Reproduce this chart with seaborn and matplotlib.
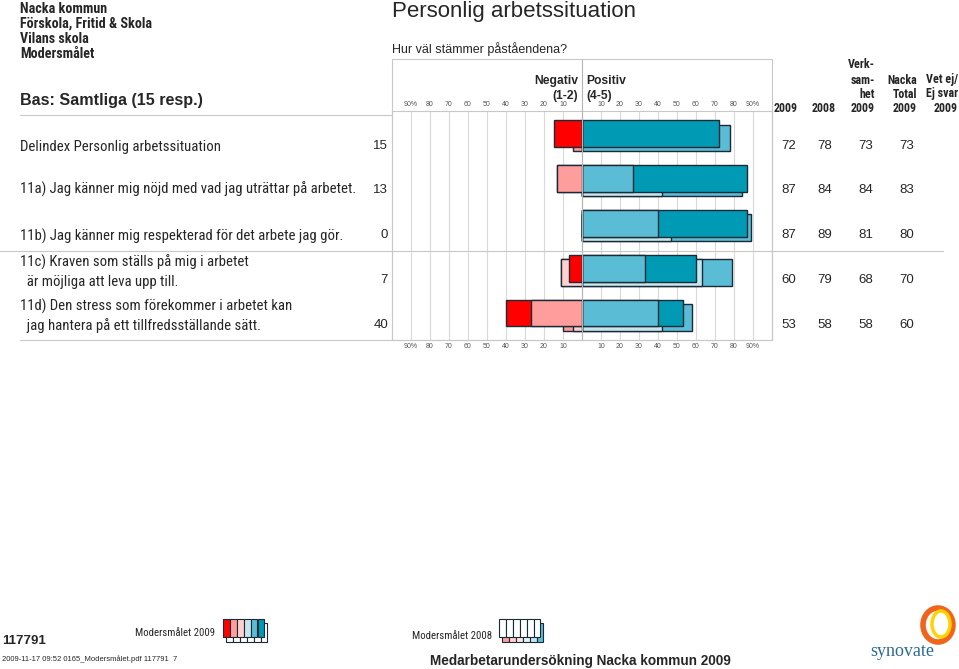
import seaborn as sns
import matplotlib.pyplot as plt
import pandas as pd
import numpy as np
from matplotlib import font_manager
from matplotlib.patches import Rectangle, Ellipse
from matplotlib.lines import Line2D

# Data
rader = ["Delindex Personlig arbetssituation",
         "11a) Jag känner mig nöjd med vad jag uträttar på arbetet.",
         "11b) Jag känner mig respekterad för det arbete jag gör.",
         "11c) Kraven som ställs på mig i arbetet\n  är möjliga att leva upp till.",
         "11d) Den stress som förekommer i arbetet kan\n  jag hantera på ett tillfredsställande sätt."]
negativ_2009 = [15, 13, 0, 7, 40]
positiv_2009 = [72, 87, 87, 60, 53]
positiv_2008 = [78, 84, 89, 79, 58]
verksamhet_2009 = [73, 84, 81, 68, 58]
nacka_total_2009 = [73, 83, 80, 70, 60]

# fördelning per svarsnivå (1-2 negativ, 4-5 positiv)
niva1_2009 = [15, 0, 0, 7, 13]
niva2_2009 = [0, 13, 0, 0, 27]
niva4_2009 = [0, 27, 40, 33, 40]
niva5_2009 = [72, 60, 47, 27, 13]
niva1_2008 = [5, 0, 0, 0, 5]
niva2_2008 = [0, 0, 0, 11, 5]
niva4_2008 = [0, 42, 47, 63, 42]
niva5_2008 = [78, 42, 42, 16, 16]

tick_varden = list(range(-90, 100, 10))
tick_text = ["90%", "80", "70", "60", "50", "40", "30", "20", "10", "",
             "10", "20", "30", "40", "50", "60", "70", "80", "90%"]

# färger
RED, SALMON, PINK = "#ff0000", "#ff9c9c", "#ffd0d0"
PALEBLUE, MIDBLUE, TEAL = "#c4e6ef", "#5bbcd6", "#009ab5"
KANT = "#1b2a35"
GRID = "#d9d9d9"

sns.set_style("white")
SANS = "Liberation Sans"
plt.rcParams["font.family"] = [SANS, "DejaVu Sans"]

# smal (condensed) font med fet variant, om en sådan finns
kandidater = {}
for f in font_manager.fontManager.ttflist:
    n = f.name
    if ("Narrow" in n or "Condensed" in n) and not any(
            b in n for b in ("Serif", "Mono", "CJK", "Light", "Thin", "Extra",
                             "Semi", "Black", "Medium")):
        kandidater.setdefault(n, set()).add(font_manager.weight_dict.get(f.weight, f.weight)
                                            if isinstance(f.weight, str) else f.weight)
NARROW = SANS
ordning = ["Liberation Sans Narrow", "Roboto Condensed", "Open Sans Condensed",
           "Noto Sans Condensed", "DejaVu Sans Condensed"]
valda = [n for n in ordning if n in kandidater] + sorted(kandidater)
for n in valda:
    if any(w >= 600 for w in kandidater[n]):
        NARROW = n
        break
else:
    if valda:
        NARROW = valda[0]

W, H = 959, 669
fig = plt.figure(figsize=(W / 100, H / 100), dpi=100)

# anpassa storleken på den smala texten så att bredden stämmer
fig.canvas.draw()
renderer = fig.canvas.get_renderer()
probe = fig.text(0, 0, rader[1], family=NARROW, fontstretch="condensed", fontsize=10.5)
SK = min(1.15, 338 / probe.get_window_extent(renderer).width)
probe.remove()


def ftxt(x, y, s, **kw):
    kw.setdefault("va", "center")
    fig.text(x / W, 1 - y / H, s, **kw)


def ntxt(x, y, s, size, **kw):
    ftxt(x, y, s, family=NARROW, fontstretch="condensed", fontsize=size * SK, **kw)


def fline(x0, x1, y0, y1, color="#c8c8c8", lw=0.8, z=1):
    fig.add_artist(Line2D([x0 / W, x1 / W], [1 - y0 / H, 1 - y1 / H],
                          color=color, lw=lw, zorder=z))


def frect(x, y, w, h, fc, ec=KANT, lw=0.8, z=3):
    fig.add_artist(Rectangle((x / W, 1 - (y + h) / H), w / W, h / H,
                             facecolor=fc, edgecolor=ec, lw=lw, zorder=z))


# stapeldiagram
ax = fig.add_axes([392 / W, 1 - 340 / H, 380 / W, 229 / H])
pos_2009 = np.arange(len(rader)).astype(float)
pos_2008 = pos_2009 + 0.1


def lager(varden, pos, farg):
    df = pd.DataFrame({"varde": varden, "rad": pos})
    sns.barplot(data=df, x="varde", y="rad", orient="y", native_scale=True,
                color=farg, width=0.6, saturation=1, errorbar=None,
                edgecolor=KANT, linewidth=1.0, ax=ax)


n1_08, n2_08 = np.array(niva1_2008), np.array(niva2_2008)
p4_08, p5_08 = np.array(niva4_2008), np.array(niva5_2008)
n1_09, n2_09 = np.array(niva1_2009), np.array(niva2_2009)
p4_09, p5_09 = np.array(niva4_2009), np.array(niva5_2009)

# 2008 bakom, 2009 framför
lager(p4_08 + p5_08, pos_2008, MIDBLUE)
lager(p4_08, pos_2008, PALEBLUE)
lager(-(n1_08 + n2_08), pos_2008, SALMON)
lager(-n2_08, pos_2008, PINK)
lager(p4_09 + p5_09, pos_2009, TEAL)
lager(p4_09, pos_2009, MIDBLUE)
lager(-(n1_09 + n2_09), pos_2009, RED)
lager(-n2_09, pos_2009, SALMON)

ax.set_xlim(-100, 100)
ax.set_ylim(4.602, -0.501)
ax.set_xticks(tick_varden)
ax.set_xticklabels(tick_text)
ax.set_yticks([])
ax.set_xlabel("")
ax.set_ylabel("")
ax.xaxis.grid(True, color=GRID, lw=0.8)
ax.set_axisbelow(True)
ax.tick_params(axis="x", top=True, labeltop=True, bottom=True, labelbottom=True,
               length=0, labelsize=5, labelcolor="#555555", pad=2)
for sp in ax.spines.values():
    sp.set_color("#c8c8c8")
    sp.set_linewidth(0.8)

# ram och linjer
fig.add_artist(Rectangle((392 / W, 1 - 340 / H), 380 / W, 281 / H, fill=False,
                         edgecolor="#c8c8c8", lw=0.8, zorder=1))
fline(582, 582, 59, 340, color="#b4b4b4", z=0.5)
fline(20, 392, 115, 115)
fline(0, 943, 251, 251)
fline(20, 392, 340, 340)

# rubriker
for y, s in zip([9, 24, 39, 54], ["Nacka kommun", "Förskola, Fritid & Skola",
                                  "Vilans skola", "Modersmålet"]):
    ntxt(20, y, s, 10, weight="bold")
ftxt(20, 100, "Bas: Samtliga (15 resp.)", weight="bold", fontsize=11.6)
ftxt(392, 11, "Personlig arbetssituation", fontsize=16)
ftxt(392, 49, "Hur väl stämmer påståendena?", fontsize=9)
ftxt(578, 81, "Negativ", weight="bold", fontsize=8.7, ha="right")
ftxt(578, 96, "(1-2)", weight="bold", fontsize=8.7, ha="right")
ftxt(586, 81, "Positiv", weight="bold", fontsize=8.7, ha="left")
ftxt(586, 96, "(4-5)", weight="bold", fontsize=8.7, ha="left")

ntxt(786, 108, "2009", 8.5, ha="center", weight="bold")
ntxt(824, 108, "2008", 8.5, ha="center", weight="bold")
for y, s in zip([65, 80, 94, 108], ["Verk-", "sam-", "het", "2009"]):
    ntxt(875, y, s, 8.5, ha="right", weight="bold")
for y, s in zip([80, 94, 108], ["Nacka", "Total", "2009"]):
    ntxt(917, y, s, 8.5, ha="right", weight="bold")
for y, s in zip([80, 94, 108], ["Vet ej/", "Ej svar", "2009"]):
    ntxt(958, y, s, 8.5, ha="right", weight="bold")

# radetiketter och värden
text_y = [147, 189, 236, 272, 316]
for i, namn in enumerate(rader):
    delar = namn.split("\n")
    if len(delar) == 1:
        ntxt(20, text_y[i], delar[0], 10.5)
    else:
        ntxt(20, text_y[i] - 10, delar[0], 10.5)
        ntxt(20, text_y[i] + 10, delar[1], 10.5)

num_y = [146, 190, 235, 280, 325]
for i in range(len(rader)):
    ftxt(388, num_y[i], str(negativ_2009[i]), ha="right", fontsize=9.5)
    ftxt(789, num_y[i], str(positiv_2009[i]), ha="center", fontsize=9.5)
    ftxt(825, num_y[i], str(positiv_2008[i]), ha="center", fontsize=9.5)
    ftxt(866, num_y[i], str(verksamhet_2009[i]), ha="center", fontsize=9.5)
    ftxt(907, num_y[i], str(nacka_total_2009[i]), ha="center", fontsize=9.5)

# sidfot
ftxt(2, 641, "117791", weight="bold", fontsize=9.5)
ftxt(2, 659, "2009-11-17 09:52 0165_Modersmålet.pdf 117791  7", fontsize=5.5)
ntxt(215, 633, "Modersmålet 2009", 7.6, ha="right")
ntxt(492, 636, "Modersmålet 2008", 7.6, ha="right")
ftxt(430, 661, "Medarbetarundersökning Nacka kommun 2009", weight="bold", fontsize=9.8)

farger_09 = [RED, SALMON, PINK, PALEBLUE, MIDBLUE, TEAL]
farger_08 = [SALMON, PINK, "#ffe4e4", "#e2f3f8", PALEBLUE, MIDBLUE]
bw = 6.9
for i in range(6):
    frect(226 + i * bw, 623, bw, 19, "white", z=3)
for i, c in enumerate(farger_09):
    frect(223 + i * bw, 619, bw, 18, c, z=4)
for i, c in enumerate(farger_08):
    frect(502 + i * bw, 623, bw, 19, c, z=3)
for i in range(6):
    frect(499 + i * bw, 619, bw, 18, "white", z=4)

# logotyp
fig.add_artist(Ellipse((938 / W, 1 - 625 / H), 30 / W, 34 / H, fill=False,
                       edgecolor="#f0641e", lw=4, zorder=3))
fig.add_artist(Ellipse((941 / W, 1 - 624 / H), 18 / W, 26 / H, fill=False,
                       edgecolor="#ffd200", lw=2.5, zorder=3))
ftxt(902, 652, "synovate", family="Liberation Serif", fontsize=13,
     color="#2a6a95", ha="center")

fig.savefig("out.png", dpi=100)
